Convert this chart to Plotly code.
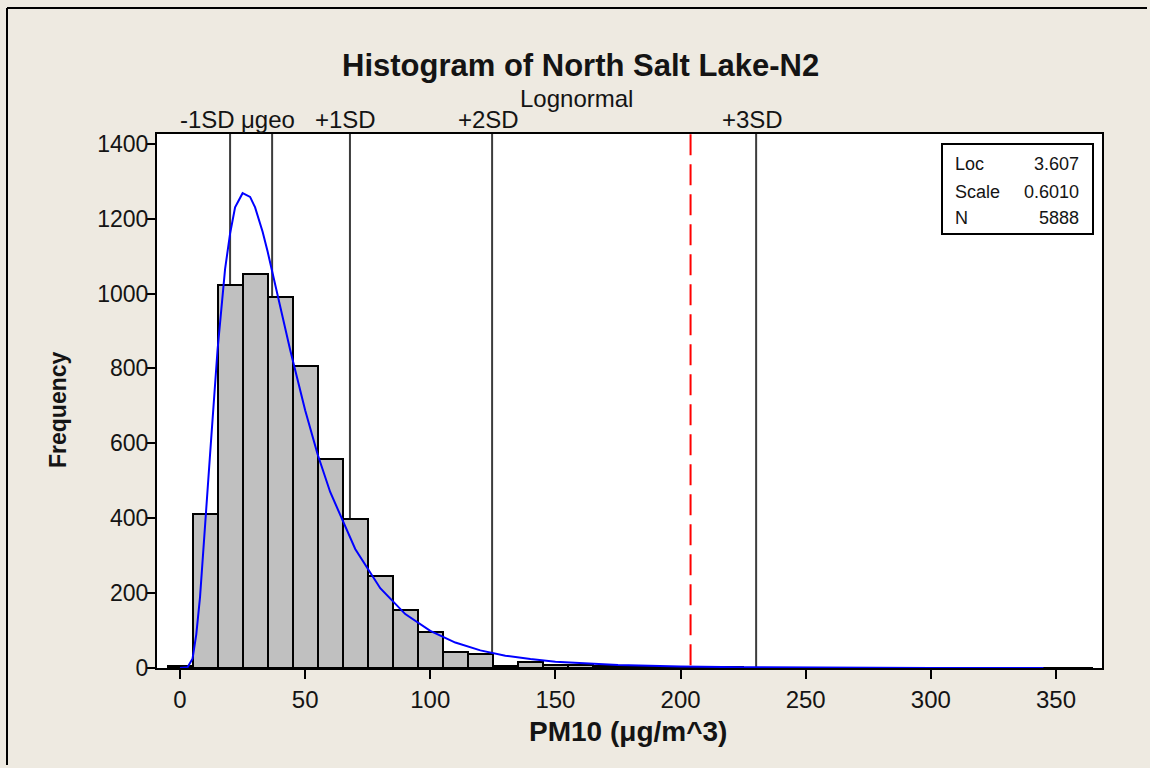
import plotly.graph_objects as go

# ---- data ----
bin_centers = [0, 10, 20, 30, 40, 50, 60, 70, 80, 90, 100, 110, 120, 130, 140,
               150, 160, 170, 180, 190, 200, 210, 220, 230, 240, 250, 260, 270,
               280, 290, 300, 310, 320, 330, 340, 350, 360]
bin_counts = [6, 410, 1022, 1053, 990, 806, 557, 398, 247, 155, 97, 44, 37, 5, 17,
              8, 7, 5, 3, 3, 2, 2, 2, 1, 1, 1, 1, 1,
              1, 0, 1, 1, 0, 1, 0, 1, 1]

curve_x = [0, 3, 5, 6.5, 8, 10, 12, 15, 18, 20, 22, 25, 28, 30, 33, 35, 40, 44,
           50, 55, 60, 70, 80, 90, 100, 110, 120, 130, 140, 150, 175, 200, 225,
           250, 300, 345]
curve_y = [0, 2, 25, 90, 190, 370, 570, 850, 1065, 1160, 1230, 1268, 1258, 1230,
           1165, 1112, 968, 850, 688, 570, 470, 318, 213, 144, 99, 68, 47, 33, 24,
           17, 8, 4, 2, 1, 0.3, 0.1]

sd_labels = ["-1SD", "\u03bcgeo", "+1SD", "+2SD", "+3SD"]
sd_positions = [20.0, 36.8, 67.9, 124.7, 230.2]
sd_label_shift = [-23, -4, -4, -4, -4]
limit_line = 204

stat_names = ["Loc", "Scale", "N"]
stat_values = ["3.607", "0.6010", "5888"]

x_ticks = [0, 50, 100, 150, 200, 250, 300, 350]
y_ticks = [0, 200, 400, 600, 800, 1000, 1200, 1400]

FONT = "Liberation Sans"
TXT = "#141414"
BG = "#EEEAE1"

# plot area in pixels (for placing paper-referenced decorations)
L, R, T, B = 157, 1102, 134, 668
PW, PH = R - L, B - T


def px(xp):
    return (xp - L) / PW


def py(yp):
    return (B - yp) / PH


fig = go.Figure()
fig.add_trace(go.Bar(
    x=bin_centers, y=bin_counts, width=10,
    marker=dict(color="#C0C0C0", line=dict(color="black", width=2)),
    hoverinfo="x+y", showlegend=False))
fig.add_trace(go.Scatter(
    x=curve_x, y=curve_y, mode="lines",
    line=dict(color="#0000FF", width=2), showlegend=False))

shapes = []
for pos in sd_positions:
    shapes.append(dict(type="line", xref="x", yref="paper", x0=pos, x1=pos,
                       y0=0, y1=1, layer="below",
                       line=dict(color="#3C3C3C", width=2)))
shapes.append(dict(type="line", xref="x", yref="paper", x0=limit_line, x1=limit_line,
                   y0=0.005, y1=1, layer="above",
                   line=dict(color="#FF0000", width=2, dash="21px,9px")))
# stats box
shapes.append(dict(type="rect", xref="paper", yref="paper",
                   x0=px(942), x1=px(1093), y0=py(234), y1=py(144),
                   fillcolor="white", line=dict(color="black", width=2), layer="above"))
# outer image border (left and top edges, kept inside the page)
shapes.append(dict(type="line", xref="paper", yref="paper",
                   x0=px(7), x1=px(7), y0=py(8), y1=py(765),
                   line=dict(color="black", width=2)))
shapes.append(dict(type="line", xref="paper", yref="paper",
                   x0=px(7), x1=px(1147), y0=py(8), y1=py(8),
                   line=dict(color="black", width=2)))

annotations = []
for lab, pos, sh in zip(sd_labels, sd_positions, sd_label_shift):
    annotations.append(dict(text=lab, x=pos, xref="x", y=1, yref="paper",
                            xanchor="center", yanchor="middle", yshift=15, xshift=sh,
                            showarrow=False, font=dict(family=FONT, size=24, color=TXT)))
annotations.append(dict(text="Lognormal", x=px(576), xref="paper", y=py(99), yref="paper",
                        xanchor="center", yanchor="middle",
                        showarrow=False, font=dict(family=FONT, size=24, color=TXT)))
annotations.append(dict(text="<b>Histogram of North Salt Lake-N2</b>", x=px(580),
                        xref="paper", y=py(66), yref="paper", xanchor="center",
                        yanchor="middle", showarrow=False,
                        font=dict(family=FONT, size=31, color=TXT)))
annotations.append(dict(text="<b>PM10 (\u03bcg/m^3)</b>", x=px(628), xref="paper",
                        y=py(731), yref="paper", xanchor="center", yanchor="middle",
                        showarrow=False, font=dict(family=FONT, size=28, color=TXT)))
annotations.append(dict(text="<b>Frequency</b>", x=px(58), xref="paper", y=py(410),
                        yref="paper", xanchor="center", yanchor="middle", textangle=-90,
                        showarrow=False, font=dict(family=FONT, size=23, color=TXT)))
row_y = [164, 192, 218]
for name, val, ry in zip(stat_names, stat_values, row_y):
    annotations.append(dict(text=name, x=px(953), xref="paper", y=py(ry), yref="paper",
                            xanchor="left", yanchor="middle", showarrow=False,
                            font=dict(family=FONT, size=18, color=TXT)))
    annotations.append(dict(text=val, x=px(1081), xref="paper", y=py(ry), yref="paper",
                            xanchor="right", yanchor="middle", showarrow=False,
                            font=dict(family=FONT, size=18, color=TXT)))

fig.update_layout(
    width=1150, height=768,
    margin=dict(l=L, r=1150 - R, t=T, b=768 - B),
    paper_bgcolor=BG, plot_bgcolor="white",
    bargap=0, shapes=shapes, annotations=annotations,
    font=dict(family=FONT, color=TXT),
    xaxis=dict(range=[-9.2, 368.4], tickvals=x_ticks, ticks="outside", ticklen=9,
               tickwidth=2, tickcolor="black", showline=True, linecolor="black",
               linewidth=2, mirror=True, showgrid=False, zeroline=False,
               tickfont=dict(family=FONT, size=24, color=TXT)),
    yaxis=dict(range=[0, 1426], tickvals=y_ticks, ticks="outside", ticklen=8,
               tickwidth=2, tickcolor="black", showline=True, linecolor="black",
               linewidth=2, mirror=True, showgrid=False, zeroline=False,
               ticklabelstandoff=-6,
               tickfont=dict(family=FONT, size=23, color=TXT)),
)

fig.write_html("out.html")
